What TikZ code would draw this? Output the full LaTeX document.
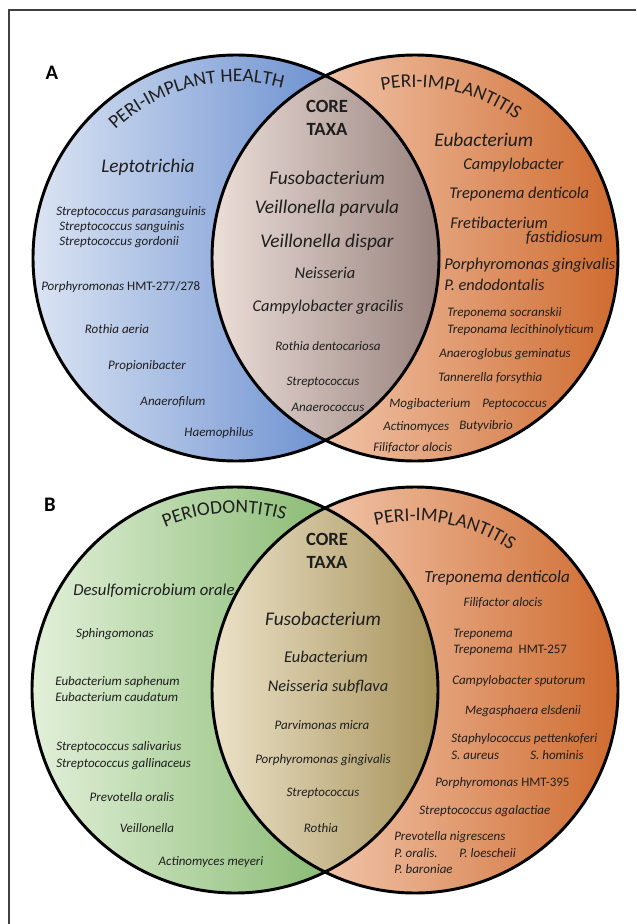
\documentclass[tikz,border=0pt]{standalone}
\usepackage{fontspec}
\setmainfont{Carlito}
\usepackage{xcolor}
\usetikzlibrary{decorations.text}

\definecolor{healthL}{RGB}{219,228,243}
\definecolor{healthR}{RGB}{68,114,196}
\definecolor{implantL}{RGB}{253,229,214}
\definecolor{implantR}{RGB}{207,107,47}
\definecolor{coreAL}{RGB}{236,222,216}
\definecolor{coreAR}{RGB}{152,130,126}
\definecolor{perioL}{RGB}{226,240,217}
\definecolor{perioR}{RGB}{106,168,79}
\definecolor{coreBL}{RGB}{236,226,200}
\definecolor{coreBR}{RGB}{166,146,90}
\definecolor{taxtext}{RGB}{30,30,30}

\tikzset{
  ring/.style={line width=2.2pt, draw=black},
  bigtaxon/.style={font=\fontsize{14.5}{16}\selectfont\itshape, inner sep=0.75pt, text=taxtext},
  midtaxon/.style={font=\fontsize{12.3}{14}\selectfont\itshape, inner sep=0.75pt, text=taxtext},
  smalltaxon/.style={font=\fontsize{9.75}{11}\selectfont\itshape, inner sep=0.75pt, text=taxtext},
  coretitle/.style={font=\fontsize{14}{17}\selectfont\bfseries, align=center, inner sep=0.75pt, text=taxtext},
  panelmark/.style={font=\fontsize{15.5}{17}\selectfont\bfseries, inner sep=0.75pt},
  arctitle/.style={decorate, decoration={text along path, text align=center,
      text={|\fontsize{14.5}{16}\selectfont\color{taxtext}|#1}}}
}

\begin{document}
\begin{tikzpicture}[x=0.75pt,y=0.75pt,yscale=-1,xscale=1]
\useasboundingbox (0,0) rectangle (636,924);

%Frame
\draw [color=black!75, line width=0.8pt] (9,924) -- (9,10) -- (636,10) ;

\coordinate (hA) at (236,258);
\coordinate (iA) at (415,258);
\coordinate (pB) at (235,690);
\coordinate (iB) at (415,690);

%Shape: Circle [peri-implant health]
\shade [left color=healthL, right color=healthR] (hA) circle (203) ;
%Shape: Circle [peri-implantitis A]
\shade [left color=implantL, right color=implantR] (iA) circle (203) ;
%Shape: Lens [core A]
\begin{scope}
\clip (hA) circle (203) ;
\clip (iA) circle (203) ;
\shade [left color=coreAL, right color=coreAR] (212,40) rectangle (439,480) ;
\end{scope}
\draw [ring] (hA) circle (203) ;
\draw [ring] (iA) circle (203) ;

%Shape: Circle [periodontitis]
\shade [left color=perioL, right color=perioR] (pB) circle (203) ;
%Shape: Circle [peri-implantitis B]
\shade [left color=implantL, right color=implantR] (iB) circle (203) ;
%Shape: Lens [core B]
\begin{scope}
\clip (pB) circle (203) ;
\clip (iB) circle (203) ;
\shade [left color=coreBL, right color=coreBR] (212,470) rectangle (438,910) ;
\end{scope}
\draw [ring] (pB) circle (203) ;
\draw [ring] (iB) circle (203) ;

% Arc titles
\path [arctitle={PERI-IMPLANT HEALTH}] (hA) ++(-149:176) arc [start angle=-149, end angle=-59, radius=176] ;
\path [arctitle={PERI-IMPLANTITIS}] (iA) ++(-122.5:171) arc [start angle=-122.5, end angle=-32.5, radius=171] ;
\path [arctitle={PERIODONTITIS}] (pB) ++(-138.5:177) arc [start angle=-138.5, end angle=-48.5, radius=177] ;
\path [arctitle={PERI-IMPLANTITIS}] (iB) ++(-124.6:169) arc [start angle=-124.6, end angle=-34.6, radius=169] ;

% Text Node
\draw (52,73) node (markA) [panelmark] {A};
\draw (50,505) node (markB) [panelmark] {B};
\draw (327,118) node (coreA) [coretitle] {CORE\\TAXA};
\draw (327,551) node (coreB) [coretitle] {CORE\\TAXA};

% Text Node: peri-implant health
\draw (148,167) node (lepto) [bigtaxon] {Leptotrichia};
\draw (55,212) node (spara) [smalltaxon, anchor=west] {Streptococcus parasanguinis};
\draw (58,227) node (ssang) [smalltaxon, anchor=west] {Streptococcus sanguinis};
\draw (58,242) node (sgord) [smalltaxon, anchor=west] {Streptococcus gordonii};
\draw (40,287) node (porphA) [smalltaxon, anchor=west] {Porphyromonas \textup{HMT-277/278}};
\draw (117,329) node (raeria) [smalltaxon] {Rothia aeria};
\draw (147,366) node (propi) [smalltaxon] {Propionibacter};
\draw (173,402) node (anfil) [smalltaxon] {Anaerofilum};
\draw (219,433) node (haemo) [smalltaxon] {Haemophilus};

% Text Node: core A
\draw (327,178) node (fusoA) [bigtaxon] {Fusobacterium};
\draw (327,208) node (vparv) [bigtaxon] {Veillonella parvula};
\draw (327,242) node (vdisp) [bigtaxon] {Veillonella dispar};
\draw (325,273) node (neissA) [midtaxon] {Neisseria};
\draw (328,307) node (cgrac) [midtaxon] {Campylobacter gracilis};
\draw (328,346) node (rdent) [smalltaxon] {Rothia dentocariosa};
\draw (323,382) node (streA) [smalltaxon] {Streptococcus};
\draw (328,407) node (anaco) [smalltaxon] {Anaerococcus};

% Text Node: peri-implantitis A
\draw (433,140) node (eubA) [bigtaxon, anchor=west] {Eubacterium};
\draw (462,165) node (campA) [midtaxon, anchor=west] {Campylobacter};
\draw (448,194) node (tdentA) [midtaxon, anchor=west] {Treponema denticola};
\draw (449,223) node (freti) [midtaxon, anchor=west] {Fretibacterium};
\draw (604,238) node (fasti) [midtaxon, anchor=east] {fastidiosum};
\draw (443,265) node (pgingA) [midtaxon, anchor=west] {Porphyromonas gingivalis};
\draw (443,285) node (pendo) [midtaxon, anchor=west] {P. endodontalis};
\draw (446,313) node (tsocr) [smalltaxon, anchor=west] {Treponema socranskii};
\draw (446,330) node (tleci) [smalltaxon, anchor=west] {Treponama lecithinolyticum};
\draw (438,354) node (agemi) [smalltaxon, anchor=west] {Anaeroglobus geminatus};
\draw (437,378) node (tfors) [smalltaxon, anchor=west] {Tannerella forsythia};
\draw (388,404) node (mogib) [smalltaxon, anchor=west] {Mogibacterium};
\draw (481,404) node (pepto) [smalltaxon, anchor=west] {Peptococcus};
\draw (382,427) node (actiA) [smalltaxon, anchor=west] {Actinomyces};
\draw (458,426) node (butyv) [smalltaxon, anchor=west] {Butyvibrio};
\draw (372,448) node (filiA) [smalltaxon, anchor=west] {Filifactor alocis};

% Text Node: periodontitis
\draw (72,591) node (desul) [midtaxon, anchor=west, font=\fontsize{12.5}{14}\selectfont\itshape] {Desulfomicrobium orale};
\draw (115,634) node (sphin) [smalltaxon] {Sphingomonas};
\draw (54,682) node (esaph) [smalltaxon, anchor=west] {Eubacterium saphenum};
\draw (54,697) node (ecaud) [smalltaxon, anchor=west] {Eubacterium caudatum};
\draw (55,747) node (ssali) [smalltaxon, anchor=west] {Streptococcus salivarius};
\draw (55,764) node (sgall) [smalltaxon, anchor=west] {Streptococcus gallinaceus};
\draw (132,797) node (poral) [smalltaxon] {Prevotella oralis};
\draw (147,828) node (veill) [smalltaxon] {Veillonella};
\draw (211,862) node (ameye) [smalltaxon] {Actinomyces meyeri};

% Text Node: core B
\draw (323,619) node (fusoB) [bigtaxon] {Fusobacterium};
\draw (326,657) node (eubB) [midtaxon] {Eubacterium};
\draw (328,687) node (nsubf) [midtaxon] {Neisseria subflava};
\draw (322,725) node (pmicr) [smalltaxon] {Parvimonas micra};
\draw (323,760) node (pgingB) [smalltaxon] {Porphyromonas gingivalis};
\draw (323,793) node (streB) [smalltaxon] {Streptococcus};
\draw (321,828) node (rothB) [smalltaxon] {Rothia};

% Text Node: peri-implantitis B
\draw (423,578) node (tdentB) [midtaxon, anchor=west, font=\fontsize{12.8}{14}\selectfont\itshape] {Treponema denticola};
\draw (503,603) node (filiB) [smalltaxon] {Filifactor alocis};
\draw (452,634) node (trepo) [smalltaxon, anchor=west] {Treponema};
\draw (452,650) node (trhmt) [smalltaxon, anchor=west] {Treponema~ \textup{HMT-257}};
\draw (451,681) node (csput) [smalltaxon, anchor=west] {Campylobacter sputorum};
\draw (523,711) node (melsd) [smalltaxon] {Megasphaera elsdenii};
\draw (450,739) node (spett) [smalltaxon, anchor=west] {Staphylococcus pettenkoferi};
\draw (450,755) node (saure) [smalltaxon, anchor=west] {S. aureus};
\draw (529,755) node (shomi) [smalltaxon, anchor=west] {S. hominis};
\draw (434,783) node (porphB) [smalltaxon, anchor=west] {Porphyromonas \textup{HMT-395}};
\draw (418,811) node (sagal) [smalltaxon, anchor=west] {Streptococcus agalactiae};
\draw (393,837) node (pnigr) [smalltaxon, anchor=west] {Prevotella nigrescens};
\draw (393,853) node (porB) [smalltaxon, anchor=west] {P. oralis.};
\draw (458,853) node (ploes) [smalltaxon, anchor=west] {P. loescheii};
\draw (393,869) node (pbaro) [smalltaxon, anchor=west] {P. baroniae};

\end{tikzpicture}
\end{document}
